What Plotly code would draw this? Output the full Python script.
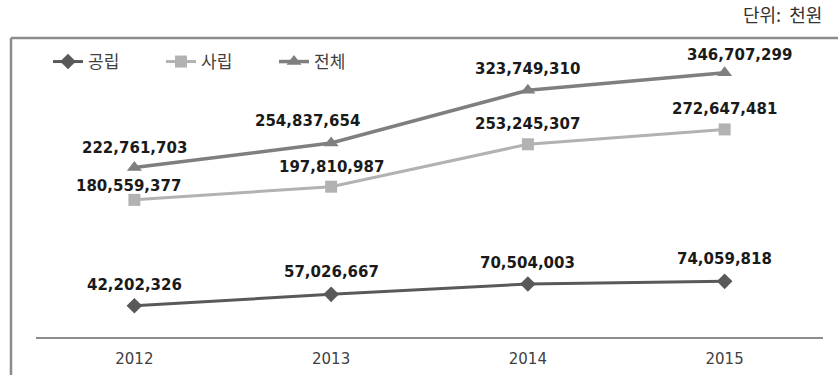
import plotly.graph_objects as go

# 연도별 예산 (단위: 천원)
years = ["2012", "2013", "2014", "2015"]
public = [42202326, 57026667, 70504003, 74059818]      # 공립
private = [180559377, 197810987, 253245307, 272647481]  # 사립
total = [222761703, 254837654, 323749310, 346707299]    # 전체

series = [
    ("공립", public, "#595959", "diamond", 12, 3),
    ("사립", private, "#b2b2b2", "square", 12, 3),
    ("전체", total, "#7f7f7f", "triangle-up", 13, 3.5),
]

# horizontal nudges for a few value labels so they clear the lines
label_xshift = {
    "공립": [0, 0, 0, 0],
    "사립": [-6, 0, 0, 0],
    "전체": [0, -24, 0, 15],
}
label_yshift = {
    "공립": [21, 22, 21, 22],
    "사립": [14, 20, 20, 20],
    "전체": [20, 22, 21, 18],
}

W, H = 838, 375
L, R, T, B = 36, 15, 32, 37
pw, ph = W - L - R, H - T - B


def px_x(p):
    return (p - L) / pw


def px_y(p):
    return (H - B - p) / ph


fig = go.Figure()
annotations = []
for name, vals, color, symbol, msize, lw in series:
    fig.add_trace(go.Scatter(
        x=years, y=vals, name=name, mode="lines+markers",
        line=dict(color=color, width=lw),
        marker=dict(symbol=symbol, size=msize, color=color),
        hoverinfo="skip",
    ))
    for i, v in enumerate(vals):
        # category axes position annotations by category index
        annotations.append(dict(
            x=i, y=v, xref="x", yref="y", text=f"{v:,}", showarrow=False,
            xshift=label_xshift[name][i], yshift=label_yshift[name][i],
            font=dict(family="DejaVu Sans", size=15, color="#1a1a1a", weight="bold"),
        ))

annotations.append(dict(
    x=px_x(741), y=px_y(14), xref="paper", yref="paper", text="단위:  천원",
    showarrow=False, xanchor="left", yanchor="middle",
    font=dict(family="Noto Sans CJK KR", size=18, color="#333333"),
))

frame_color = "#8c8c8c"
shapes = [
    dict(type="line", xref="paper", yref="paper", x0=px_x(11), x1=px_x(840),
         y0=px_y(38), y1=px_y(38), line=dict(color=frame_color, width=2.5)),
    dict(type="line", xref="paper", yref="paper", x0=px_x(11), x1=px_x(11),
         y0=px_y(38), y1=px_y(377), line=dict(color=frame_color, width=2.5)),
]

fig.update_layout(
    width=W, height=H,
    margin=dict(l=L, r=R, t=T, b=B),
    paper_bgcolor="white", plot_bgcolor="white",
    showlegend=True,
    legend=dict(
        orientation="h", x=px_x(48), y=px_y(62), xanchor="left", yanchor="middle",
        font=dict(family="Noto Sans CJK KR", size=17, color="#404040"),
        entrywidth=68, entrywidthmode="pixels", bgcolor="rgba(0,0,0,0)",
    ),
    xaxis=dict(
        type="category", range=[-0.5, 3.5], showgrid=False, zeroline=False,
        showline=False, ticks="", ticklabelstandoff=10, automargin=False,
        tickfont=dict(family="DejaVu Sans", size=15, color="#404040"),
    ),
    yaxis=dict(range=[0, 400000000], showgrid=False, zeroline=True,
               zerolinecolor="#8c8c8c", zerolinewidth=1.5, showticklabels=False,
               showline=False, ticks="", automargin=False),
    annotations=annotations,
    shapes=shapes,
)

fig.write_html("out.html")
